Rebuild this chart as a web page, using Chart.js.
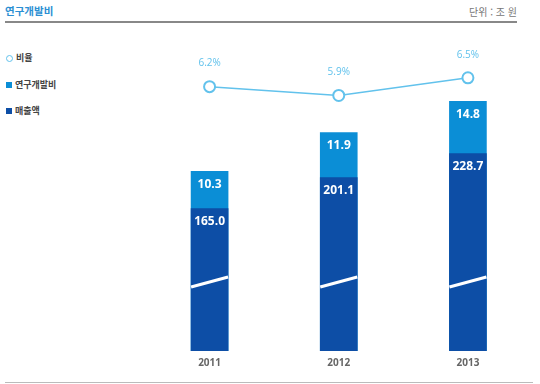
<!DOCTYPE html>
<html lang="ko">
<head>
    <meta charset="UTF-8">
    <title>연구개발비</title>
    <script src="https://cdn.jsdelivr.net/npm/chart.js"></script>
    <style>
        html, body { margin: 0; padding: 0; background: #fff; }
        .wrap { position: relative; width: 540px; height: 384px; overflow: hidden; font-family: "Noto Sans CJK KR", "Noto Sans", sans-serif; }
        .title { position: absolute; left: 5px; top: 3px; font-size: 10.5px; font-weight: bold; color: #2b8fd3; }
        .unit { position: absolute; right: 23px; top: 4px; font-size: 10px; color: #777; }
        .rule { position: absolute; left: 5px; width: 512px; top: 21px; height: 0; border-top: 2px solid #888; }
        .bottom-rule { position: absolute; left: 5px; width: 528px; top: 382px; height: 0; border-top: 1px solid #bbb; }
        .legend { position: absolute; left: 6px; top: 52px; font-size: 9px; font-weight: bold; color: #444; }
        .legend div { height: 12px; line-height: 12px; margin-bottom: 14.5px; display: flex; align-items: center; }
        .legend .dot { width: 5px; height: 5px; border: 1.5px solid #62c2ec; border-radius: 50%; margin-right: 3px; }
        .legend .sq { width: 6px; height: 6px; margin-right: 3px; }
        canvas { position: absolute; left: 0; top: 0; }
    </style>
</head>
<body>
<div class="wrap">
    <div class="title">연구개발비</div>
    <div class="unit">단위 : 조 원</div>
    <div class="rule"></div>
    <div class="legend">
        <div><span class="dot"></span>비율</div>
        <div><span class="sq" style="background:#0b8ed6"></span>연구개발비</div>
        <div><span class="sq" style="background:#0d4ea6"></span>매출액</div>
    </div>
    <canvas id="rdChart" width="540" height="384"></canvas>
    <div class="bottom-rule"></div>
</div>

<script>
    // values (조 원, %)
    const years = ["2011", "2012", "2013"];
    const sales = [165.0, 201.1, 228.7];
    const rnd = [10.3, 11.9, 14.8];
    const ratio = [6.2, 5.9, 6.5];

    const darkBlue = "#0d4ea6";
    const lightBlue = "#0b8ed6";
    const lineBlue = "#62c2ec";

    // total bar sits behind the sales bar, its visible part is the R&D slice
    const totals = sales.map((s, i) => s + rnd[i]);

    // value labels + the white "axis break" strokes on the sales bars
    const barLabels = {
        id: "barLabels",
        afterDatasetsDraw(chart) {
            const ctx = chart.ctx;
            const bottom = chart.chartArea.bottom;
            ctx.save();

            chart.getDatasetMeta(1).data.forEach((bar) => {
                const w = bar.width / 2;
                ctx.strokeStyle = "#fff";
                ctx.lineWidth = 3;
                ctx.beginPath();
                ctx.moveTo(bar.x - w, bottom - 64);
                ctx.lineTo(bar.x + w, bottom - 74);
                ctx.stroke();
            });

            ctx.fillStyle = "#fff";
            ctx.font = "bold 12px 'Open Sans', sans-serif";
            ctx.textAlign = "center";
            ctx.textBaseline = "middle";
            chart.getDatasetMeta(1).data.forEach((bar, i) => {
                ctx.fillText(sales[i].toFixed(1), bar.x, bar.y + 13);
            });
            chart.getDatasetMeta(2).data.forEach((bar, i) => {
                ctx.fillText(rnd[i].toFixed(1), bar.x, bar.y + 13);
            });

            ctx.fillStyle = lineBlue;
            ctx.font = "10px 'Open Sans', sans-serif";
            chart.getDatasetMeta(0).data.forEach((pt, i) => {
                ctx.fillText(ratio[i].toFixed(1) + "%", pt.x, pt.y - 23);
            });
            ctx.restore();
        }
    };

    new Chart(document.getElementById("rdChart"), {
        data: {
            labels: years,
            datasets: [
                {
                    type: "line",
                    label: "비율",
                    data: ratio,
                    yAxisID: "yRatio",
                    borderColor: lineBlue,
                    borderWidth: 1.5,
                    pointRadius: 5.5,
                    pointBorderWidth: 2,
                    pointBackgroundColor: "#fff",
                    pointBorderColor: lineBlue,
                    order: 0
                },
                {
                    type: "bar",
                    label: "매출액",
                    data: sales,
                    yAxisID: "ySales",
                    backgroundColor: darkBlue,
                    barThickness: 37,
                    grouped: false,
                    order: 1
                },
                {
                    type: "bar",
                    label: "연구개발비",
                    data: totals,
                    yAxisID: "yTotal",
                    backgroundColor: lightBlue,
                    barThickness: 37,
                    grouped: false,
                    order: 2
                }
            ]
        },
        options: {
            responsive: false,
            animation: false,
            layout: { padding: { left: 145, right: 5, top: 30, bottom: 9 } },
            plugins: {
                legend: { display: false },
                tooltip: { enabled: false }
            },
            scales: {
                x: {
                    grid: { display: false, drawTicks: false },
                    border: { display: false },
                    ticks: {
                        padding: 6,
                        color: "#666",
                        font: { family: "'Open Sans', sans-serif", size: 10, weight: "bold" }
                    }
                },
                ySales: { display: false, min: 0, max: 372 },
                yTotal: { display: false, min: 0, max: 313 },
                yRatio: { display: false, min: -2.777, max: 8.123 }
            }
        },
        plugins: [barLabels]
    });
</script>
</body>
</html>
